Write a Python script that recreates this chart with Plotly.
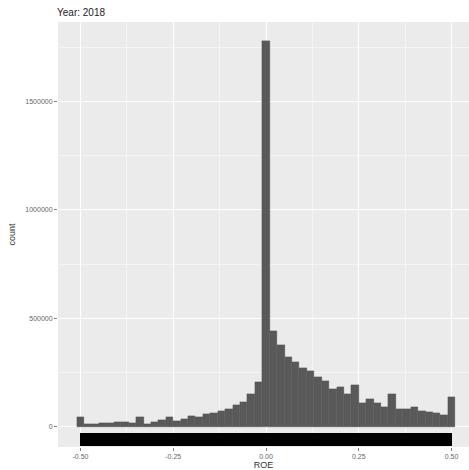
import plotly.graph_objects as go

# ---- data ----
bin_centers = [round(-0.50 + 0.02 * i, 2) for i in range(51)]
counts = [
    45000, 10000, 12000, 14000, 17000, 20000, 19000, 18000, 43000, 12000,
    20000, 28000, 46000, 25000, 35000, 48000, 42000, 56000, 62000, 70000,
    82000, 98000, 115000, 150000, 205000,
    1781000,
    442000, 376000, 322000, 299000, 269000, 258000, 230000, 211000, 175000, 184000,
    150000, 190000, 107000, 126000, 107000, 89000, 149000, 82000, 82000, 91000,
    73000, 67000, 61000, 52000, 135000,
]
bin_width = 0.02
band_low, band_high = -90000, -30000   # black band below the histogram
title_text = "Year: 2018"
x_title = "ROE"
y_title = "count"
x_ticks = [-0.5, -0.25, 0.0, 0.25, 0.5]
x_ticklabels = ["-0.50", "-0.25", "0.00", "0.25", "0.50"]
y_ticks = [0, 500000, 1000000, 1500000]
y_ticklabels = ["0", "500000", "1000000", "1500000"]

fig = go.Figure()
fig.add_trace(go.Bar(
    x=bin_centers, y=counts, width=bin_width,
    marker=dict(color="#595959", line=dict(color="#565656", width=0.3)),
    showlegend=False, hoverinfo="skip",
))
xmin, xmax = min(bin_centers), max(bin_centers)
fig.add_trace(go.Bar(
    x=[(xmin + xmax) / 2], y=[band_high - band_low], base=[band_low],
    width=[xmax - xmin],
    marker=dict(color="#000000", line=dict(width=0)),
    showlegend=False, hoverinfo="skip",
))

tick_font = dict(family="Liberation Sans, Arial, sans-serif", size=7, color="#666666")
fig.update_layout(
    width=469, height=470,
    margin=dict(l=57.5, r=0, t=22, b=23),
    paper_bgcolor="white",
    plot_bgcolor="#EBEBEB",
    barmode="overlay",
    bargap=0,
    title=dict(text=title_text, x=57 / 469, xanchor="left", y=1 - 12 / 470, yanchor="middle",
               font=dict(family="Liberation Sans, Arial, sans-serif", size=10, color="#222222")),
    xaxis=dict(
        range=[-0.5605, 0.547],
        tickvals=x_ticks, ticktext=x_ticklabels,
        showgrid=True, gridcolor="white", gridwidth=1,
        minor=dict(tickvals=[-0.375, -0.125, 0.125, 0.375], showgrid=True,
                   gridcolor="#F5F5F5", gridwidth=0.5),
        ticks="outside", ticklen=3, tickcolor="#7f7f7f", tickwidth=0.6,
        tickfont=tick_font, zeroline=False, showline=False,
        title=dict(text=x_title, standoff=2,
                   font=dict(family="Liberation Sans, Arial, sans-serif", size=9, color="#333333")),
        fixedrange=True,
    ),
    yaxis=dict(
        range=[-94650, 1867600],
        tickvals=y_ticks, ticktext=y_ticklabels,
        showgrid=True, gridcolor="white", gridwidth=1,
        minor=dict(tickvals=[250000, 750000, 1250000, 1750000], showgrid=True,
                   gridcolor="#F5F5F5", gridwidth=0.5),
        ticks="outside", ticklen=3, tickcolor="#7f7f7f", tickwidth=0.6,
        tickfont=tick_font, zeroline=False, showline=False,
        title=dict(text=y_title, standoff=8,
                   font=dict(family="Liberation Sans, Arial, sans-serif", size=9, color="#333333")),
        fixedrange=True,
    ),
)

fig.write_html("out.html")
